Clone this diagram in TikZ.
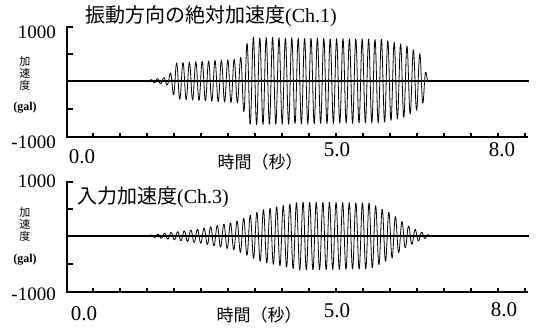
\documentclass[tikz,border=0pt]{standalone}
\usepackage{fontspec}
\setmainfont{Liberation Serif}
\newfontfamily\jp{Noto Sans CJK JP}

\begin{document}
\begin{tikzpicture}[x=1pt,y=-1pt,
  ax/.style={line width=1.2pt},
  sig/.style={line width=0.8pt,line join=round},
  yval/.style={font=\fontsize{19}{19}\selectfont,inner sep=0pt,anchor=east},
  tval/.style={font=\fontsize{21}{21}\selectfont,inner sep=0pt},
  ttl/.style={font=\fontsize{20}{20}\selectfont,inner sep=0pt,anchor=west},
  tlab/.style={font=\jp\fontsize{17}{17}\selectfont,inner sep=0pt},
  ylab/.style={font=\jp\fontsize{11}{12}\selectfont,align=center,inner sep=0pt},
  unit/.style={font=\bfseries\fontsize{12}{12}\selectfont,inner sep=0pt}]
\useasboundingbox (0,0) rectangle (536,328);

% axes of both panels
\foreach \dy in {0,155} {
  \begin{scope}[shift={(0,\dy)}]
    \draw[ax] (73,27) -- (67,27) -- (67,137) -- (528,137);
    \draw[ax] (67,54) -- (73,54) (67,109) -- (73,109);
    \foreach \tx in {93,120,...,525} \draw[ax] (\tx,137) -- (\tx,133);
    \draw[ax] (67,81) -- (529,81);
  \end{scope}
}

% Ch.1 response
\foreach \xa/\xb/\aa/\ab in {143/168/0/4, 168/176/4/18, 176/240/18/22, 240/250/22/44,
  250/380/44/42, 380/405/42/36, 405/422/36/26, 422/428/26/0}
  \draw[sig] plot[domain=\xa:\xb,samples=300]
    (\x,{81-(\aa+(\ab-\aa)*(\x-\xa)/(\xb-\xa))*sin(mod(\x-143,6.4)*56.25)});

% Ch.3 input
\foreach \xa/\xb/\aa/\ab in {143/200/0/7, 200/235/7/14, 235/262/14/26, 262/300/26/34,
  300/370/34/33, 370/392/33/22, 392/405/22/12, 405/418/12/5, 418/432/5/0}
  \draw[sig] plot[domain=\xa:\xb,samples=300]
    (\x,{236-(\aa+(\ab-\aa)*(\x-\xa)/(\xb-\xa))*sin(mod(\x-143,6.6)*54.545)});

% labels
\node[ttl] (title1) at (85,16) {{\jp 振動方向の絶対加速度}(Ch.1)};
\node[ttl] (title3) at (77,197) {{\jp 入力加速度}(Ch.3)};

\node[yval] (max1) at (56,32) {1000};
\node[yval] (min1) at (56,142) {-1000};
\node[yval] (max3) at (56,181) {1000};
\node[yval] (min3) at (56,294) {-1000};

\node[ylab] (acc1) at (25,73) {加\\速\\度};
\node[unit] (gal1) at (25,108) {(gal)};
\node[ylab] (acc3) at (25,224) {加\\速\\度};
\node[unit] (gal3) at (25,260) {(gal)};

\node[tval] (t0a) at (82,157) {0.0};
\node[tval] (t5a) at (337,150) {5.0};
\node[tval] (t8a) at (502,150) {8.0};
\node[tval] (t0b) at (84,314) {0.0};
\node[tval] (t5b) at (337,311) {5.0};
\node[tval] (t8b) at (504,310) {8.0};

\node[tlab] (time1) at (260,162) {時間（秒）};
\node[tlab] (time3) at (259,315) {時間（秒）};
\end{tikzpicture}
\end{document}
